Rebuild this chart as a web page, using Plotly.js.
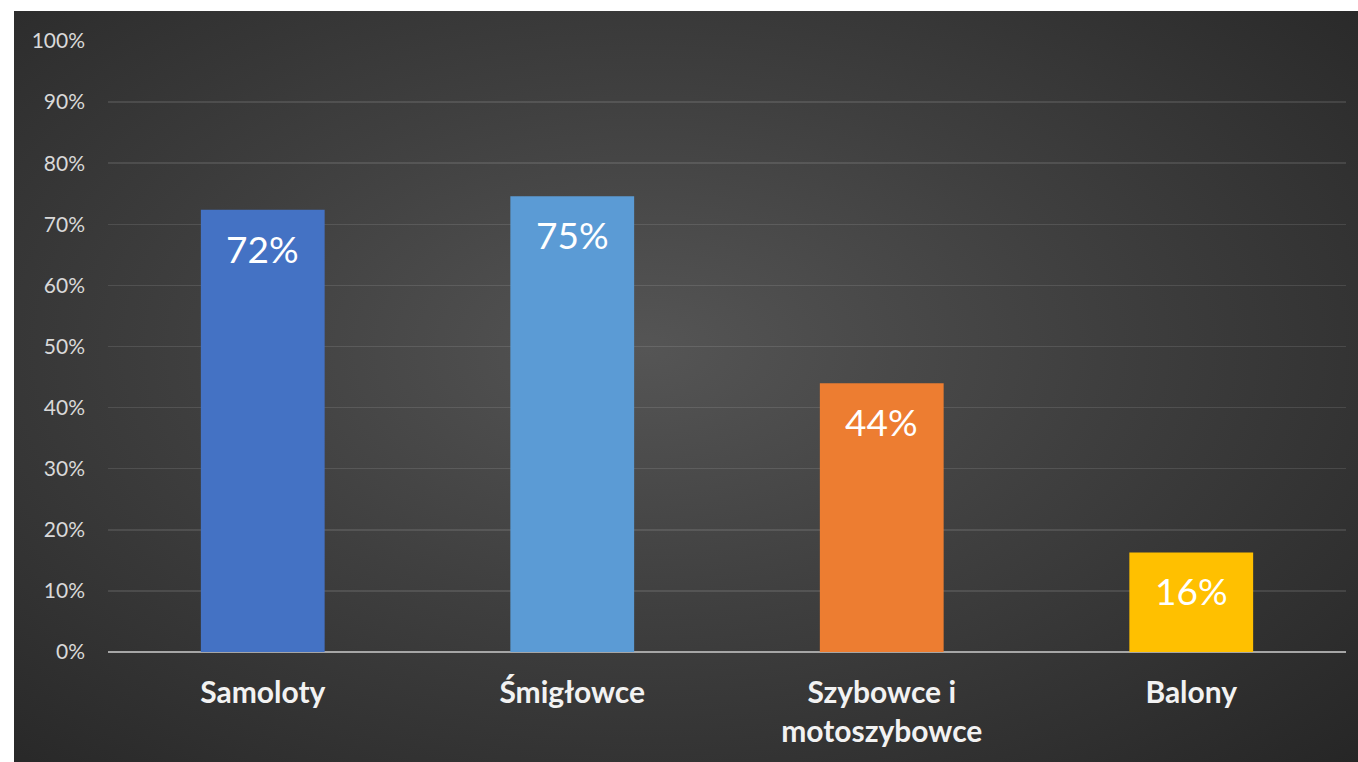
<!DOCTYPE html>
<html>
<head>
<meta charset="utf-8">
<script src="https://cdn.plot.ly/plotly-3.0.1.min.js"></script>
<style>
html,body{margin:0;padding:0;background:#ffffff;width:1358px;height:762px;overflow:hidden;}
#chart{position:absolute;left:14px;top:11px;width:1344px;height:751px;
background:radial-gradient(ellipse farthest-corner at 47% 45%, #555555 0%, #3f3f3f 45%, #262626 100%);}
</style>
</head>
<body>
<div id="chart"></div>
<script>
var categories = ["Samoloty", "Śmigłowce", "Szybowce i<br>motoszybowce", "Balony"];
var values = [0.724, 0.746, 0.44, 0.163];
var valueLabels = ["72%", "75%", "44%", "16%"];
var barColors = ["#4472C4", "#5B9BD5", "#ED7D31", "#FFC000"];
var yTickVals = [0, 0.1, 0.2, 0.3, 0.4, 0.5, 0.6, 0.7, 0.8, 0.9, 1.0];
var yTickText = ["0%", "10%", "20%", "30%", "40%", "50%", "60%", "70%", "80%", "90%", "100%"];

var trace = {
  type: "bar",
  x: categories,
  y: values,
  marker: {color: barColors, line: {width: 0}},
  hoverinfo: "none"
};

var annotations = categories.map(function(c, i){
  return {
    x: c, y: values[i], xref: "x", yref: "y",
    text: valueLabels[i], showarrow: false,
    yanchor: "top", yshift: -14,
    font: {family: "Lato, 'Open Sans', sans-serif", size: 37, color: "#ffffff"}
  };
});

var layout = {
  width: 1344, height: 751,
  paper_bgcolor: "rgba(0,0,0,0)",
  plot_bgcolor: "rgba(0,0,0,0)",
  margin: {l: 94, r: 12, t: 30, b: 110, pad: 0},
  bargap: 0.6,
  showlegend: false,
  xaxis: {
    type: "category",
    showgrid: false, zeroline: false, showline: false,
    ticks: "", ticklabelstandoff: 20,
    tickfont: {family: "Lato, 'Open Sans', sans-serif", size: 30, color: "#f2f2f2", weight: "bold"}
  },
  yaxis: {
    range: [0, 1.0],
    tickvals: yTickVals, ticktext: yTickText,
    showgrid: true, gridcolor: "rgba(255,255,255,0.11)", gridwidth: 1.5,
    zeroline: true, zerolinecolor: "#a6a6a6", zerolinewidth: 2.5,
    showline: false, ticks: "", ticklabelstandoff: 22,
    tickfont: {family: "Lato, 'Open Sans', sans-serif", size: 21, color: "#d9d9d9"},
    fixedrange: true
  },
  annotations: annotations
};

Plotly.newPlot("chart", [trace], layout, {displayModeBar: false, staticPlot: true});
</script>
</body>
</html>
